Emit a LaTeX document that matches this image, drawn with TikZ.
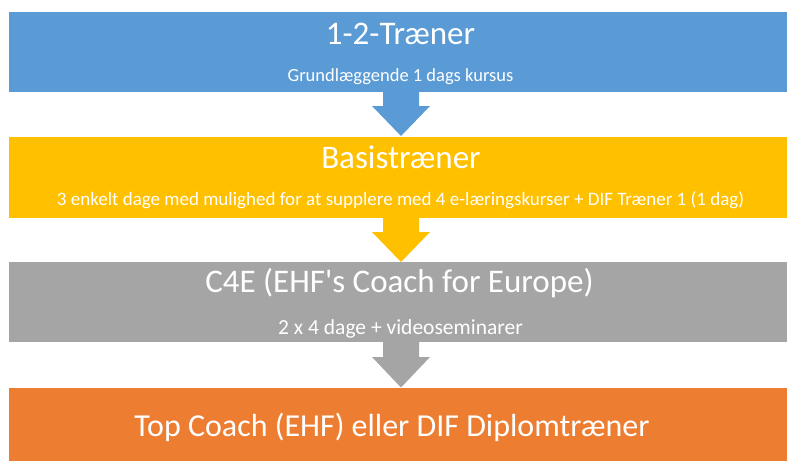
\documentclass[tikz,border=0pt]{standalone}
\usepackage{fontspec}
\setmainfont{Carlito}
\definecolor{cblue}{HTML}{5B9BD5}
\definecolor{cyellow}{HTML}{FFC000}
\definecolor{cgray}{HTML}{A5A5A5}
\definecolor{corange}{HTML}{ED7D31}
\begin{document}
\begin{tikzpicture}[x=1pt,y=-1pt,
  title/.style={anchor=base, text=white, inner sep=0pt, font=\fontsize{33}{38}\selectfont},
  sub/.style={anchor=base, text=white, inner sep=0pt, font=\fontsize{19}{22}\selectfont}]
\useasboundingbox (0,0) rectangle (787,461);
\fill[white] (0,0) rectangle (787,461);
% bands
\fill[cblue]   (8.7,11.5) rectangle (787,92);
\fill[cyellow] (8.7,137) rectangle (787,218);
\fill[cgray]   (8.7,262) rectangle (787,342);
\fill[corange] (8.7,387.7) rectangle (787,461);
% arrows
\fill[cblue] (383,91) -- (419,91) -- (419,106) -- (430,106) -- (401,136) -- (372,106) -- (383,106) -- cycle;
\fill[cyellow] (383,217) -- (419,217) -- (419,232) -- (430,232) -- (401,262) -- (372,232) -- (383,232) -- cycle;
\fill[cgray] (383,341) -- (419,341) -- (419,357) -- (430,357) -- (401,387.5) -- (372,357) -- (383,357) -- cycle;
% texts
\node[title] (t1) at (400.5,44.3) {1-2-Træner};
\node[sub, font=\fontsize{18.5}{22}\selectfont] (s1) at (400.5,81.7) {Grundlæggende 1 dags kursus};
\node[title] (t2) at (401,168.3) {Basistræner};
\node[sub] (s2) at (400.5,205.7) {3 enkelt dage med mulighed for at supplere med 4 e-læringskurser + DIF Træner 1 (1 dag)};
\node[title] (t3) at (399.5,292.5) {C4E (EHF\textquotesingle s Coach for Europe)};
\node[sub, font=\fontsize{21.5}{25}\selectfont] (s3) at (400.5,334) {2 x 4 dage + videoseminarer};
\node[title, font=\fontsize{32}{38}\selectfont] (t4) at (392,436.7) {Top Coach (EHF) eller DIF Diplomtræner};
\end{tikzpicture}
\end{document}
